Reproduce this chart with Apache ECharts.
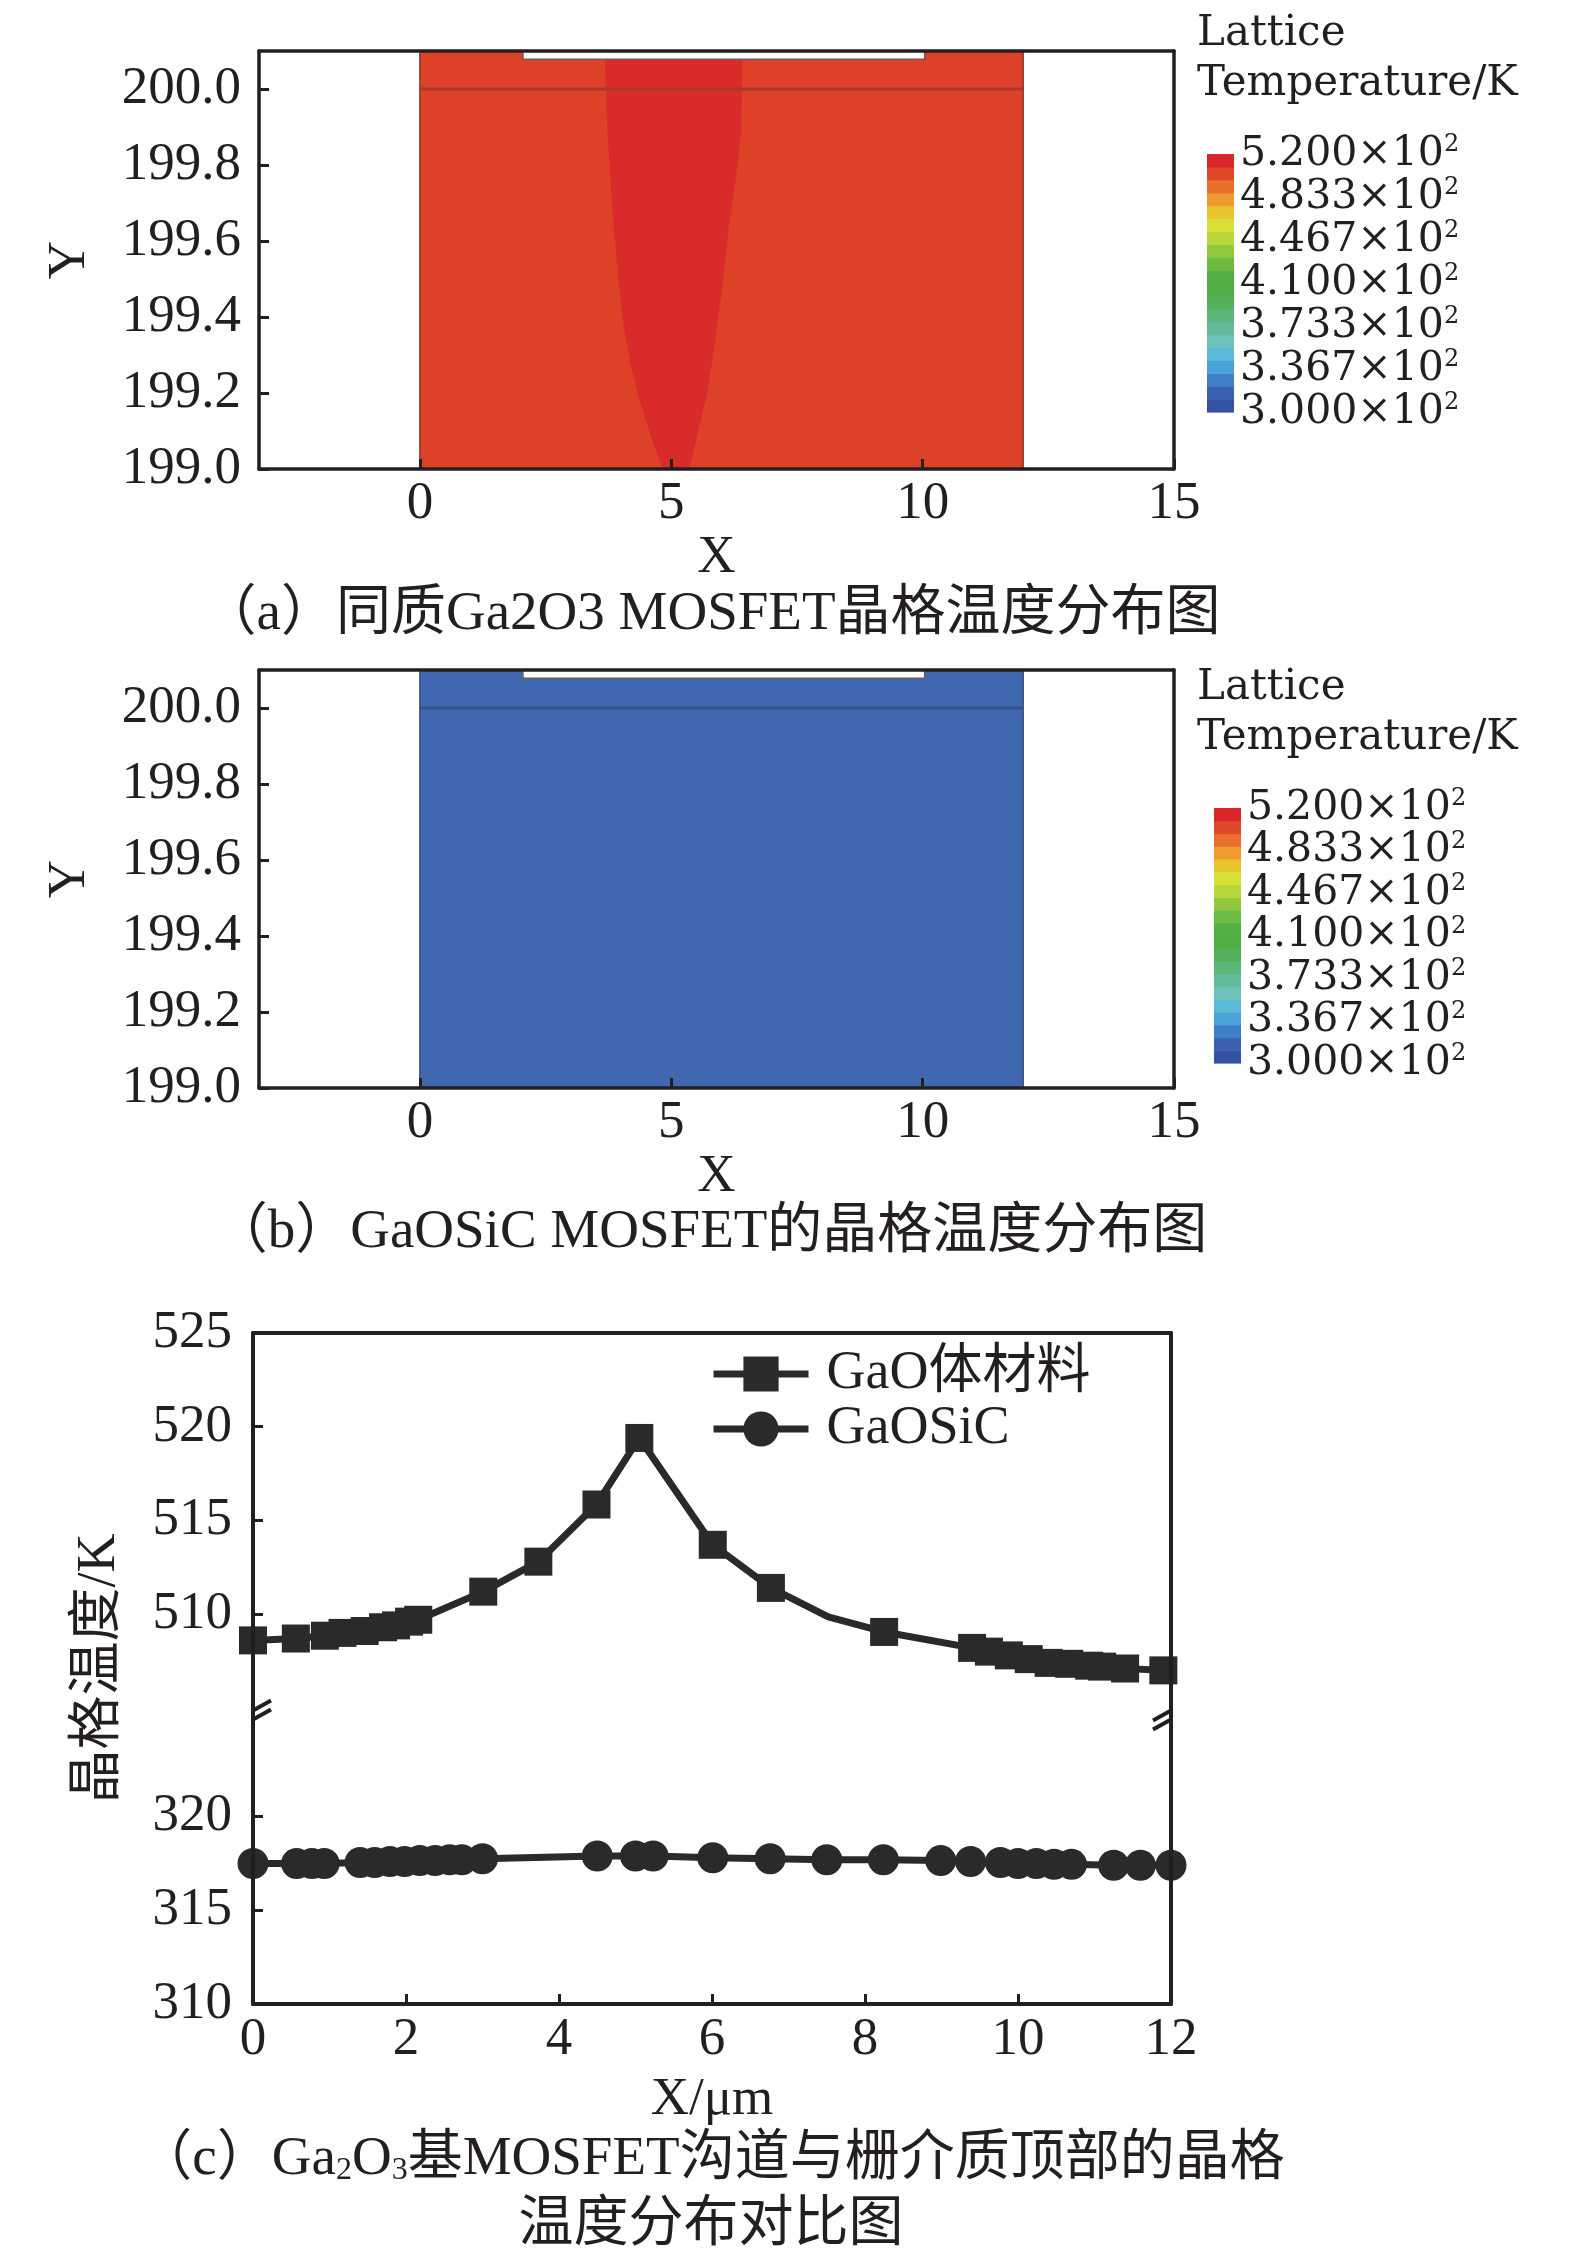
<!DOCTYPE html>
<html><head><meta charset="utf-8">
<script src="https://cdn.jsdelivr.net/npm/echarts@6/dist/echarts.min.js"></script>
<style>html,body{margin:0;padding:0;background:#fff}#c{width:1575px;height:2253px}</style>
</head><body><div id="c"></div>
<script>
const FONT = '"Liberation Serif","Times New Roman","Noto Sans CJK SC",serif';
const WIDE = '"DejaVu Serif","Liberation Serif",serif';
const INK = '#231f20';

// ---------- panels (a)/(b): device map ----------
const mapXTicks = [0, 5, 10, 15];
const mapYTicks = [199.0, 199.2, 199.4, 199.6, 199.8, 200.0];
const deviceRegion = [[0, 12, 199.0, 200.1]];           // x0,x1,y0,y1
const gateRegion = [[2.05, 10.04, 200.078, 200.1]];
const interfaceLine = [[0, 200.0], [12, 200.0]];
const hotSpotA = [[3.67, 200.1], [3.73, 199.89], [3.79, 199.76], [3.86, 199.63], [3.95, 199.50], [4.06, 199.37],
  [4.20, 199.27], [4.35, 199.19], [4.61, 199.08], [4.83, 199.0], [5.36, 199.0], [5.50, 199.08], [5.70, 199.19],
  [5.80, 199.27], [5.91, 199.37], [6.03, 199.50], [6.14, 199.63], [6.28, 199.76], [6.39, 199.89], [6.42, 200.1]];
const colorbarTicks = [300, 336.7, 373.3, 410, 446.7, 483.3, 520];
const colorbarLevels = [300, 311, 322, 333, 344, 355, 366, 377, 388, 399, 410, 421, 432, 443, 454, 465, 476, 487, 498, 509, 520];
const colorbarColors = ['#3551A2', '#3A62B0', '#3F80C4', '#4AA3D8', '#5ABAD7', '#6CC1BA', '#64BB9C', '#5CB57A',
  '#54B05C', '#4FAF45', '#52B043', '#6DBB41', '#92C83D', '#B9D73A', '#D6E036', '#E8C52F', '#EE9A2E', '#E8702A', '#DE4A29', '#D8272B'];

// ---------- panel (c): line chart ----------
const bulkX = [0, 0.56, 0.94, 1.17, 1.46, 1.70, 1.87, 2.04, 2.16, 3.01, 3.73, 4.49, 5.05, 6.01, 6.77, 7.52, 8.25, 9.40, 9.62, 9.88, 10.14, 10.40, 10.67, 10.93, 11.10, 11.40, 11.90];
const bulkT = [508.6, 508.7, 508.85, 509.0, 509.1, 509.3, 509.4, 509.6, 509.7, 511.2, 512.8, 515.85, 519.4, 513.7, 511.4, 509.85, 509.05, 508.2, 508.0, 507.8, 507.6, 507.4, 507.35, 507.25, 507.2, 507.1, 507.0];
const bulkNoMarker = [15];
const sicX = [0, 0.57, 0.77, 0.93, 1.40, 1.59, 1.79, 1.98, 2.18, 2.38, 2.57, 2.73, 3.0, 4.5, 5.0, 5.23, 6.01, 6.76, 7.5, 8.24, 8.99, 9.38, 9.77, 10.0, 10.24, 10.47, 10.7, 11.25, 11.6, 12];
const sicT = [317.5, 317.5, 317.5, 317.5, 317.55, 317.55, 317.6, 317.6, 317.65, 317.65, 317.7, 317.7, 317.75, 317.9, 317.9, 317.9, 317.8, 317.75, 317.7, 317.7, 317.65, 317.6, 317.55, 317.5, 317.5, 317.45, 317.45, 317.4, 317.4, 317.4];
const upperTicks = [510, 515, 520, 525];
const lowerTicks = [310, 315, 320];
const breakValue = 504.8;

const chart = echarts.init(document.getElementById('c'), null, {renderer: 'canvas'});

function rectItem(fill, stroke, lw) {
  return function (params, api) {
    const p0 = api.coord([api.value(0), api.value(2)]);
    const p1 = api.coord([api.value(1), api.value(3)]);
    return {type: 'rect', shape: {x: Math.min(p0[0], p1[0]), y: Math.min(p0[1], p1[1]),
      width: Math.abs(p1[0] - p0[0]), height: Math.abs(p1[1] - p0[1])},
      style: {fill: fill, stroke: stroke, lineWidth: lw}};
  };
}
function lbl(size, extra) { return Object.assign({fontFamily: FONT, fontSize: size, color: INK}, extra || {}); }

function mapAxes(grid) {
  const xB = {gridIndex: grid, type: 'value', min: -3.2, max: 15, z: 10,
    axisLine: {onZero: false, lineStyle: {color: INK, width: 3.5}},
    axisTick: {inside: true, length: 10, lineStyle: {color: INK, width: 3}, customValues: mapXTicks},
    axisLabel: lbl(53, {margin: 9, customValues: mapXTicks, showMaxLabel: true, showMinLabel: true}),
    splitLine: {show: false},
    name: 'X', nameLocation: 'middle', nameGap: 62, nameTextStyle: lbl(53)};
  const xT = {gridIndex: grid, type: 'value', min: -3.2, max: 15, position: 'top', z: 10,
    axisLine: {onZero: false, lineStyle: {color: INK, width: 3.5}}, axisTick: {show: false},
    axisLabel: {show: false}, splitLine: {show: false}};
  const yL = {gridIndex: grid, type: 'value', min: 199, max: 200.1, z: 10,
    axisLine: {onZero: false, lineStyle: {color: INK, width: 3.5}},
    axisTick: {inside: true, length: 10, lineStyle: {color: INK, width: 3}, customValues: mapYTicks},
    axisLabel: lbl(53, {margin: 18, customValues: mapYTicks, formatter: v => v.toFixed(1)}),
    splitLine: {show: false},
    name: 'Y', nameLocation: 'middle', nameGap: 162, nameTextStyle: lbl(53)};
  const yR = {gridIndex: grid, type: 'value', min: 199, max: 200.1, position: 'right', z: 10,
    axisLine: {onZero: false, lineStyle: {color: INK, width: 3.5}}, axisTick: {show: false},
    axisLabel: {show: false}, splitLine: {show: false}};
  return {x: [xB, xT], y: [yL, yR]};
}
const aAx = mapAxes(0), bAx = mapAxes(1);

function cbAxes(grid) {
  return {
    x: {gridIndex: grid, type: 'value', min: 0, max: 1, show: false},
    y: {gridIndex: grid, type: 'value', min: 300, max: 520, position: 'right',
      axisLine: {show: false}, axisTick: {show: false, customValues: colorbarTicks}, splitLine: {show: false},
      axisLabel: {customValues: colorbarTicks, margin: 6, lineHeight: 36, showMinLabel: true, showMaxLabel: true,
        formatter: v => '{m|' + (v / 100).toFixed(3) + '×10}{s|2}',
        rich: {m: {fontFamily: WIDE, fontSize: 41, color: INK, lineHeight: 36},
               s: {fontFamily: WIDE, fontSize: 24, color: INK, lineHeight: 36, padding: [0, 0, 18, 0]}}}}
  };
}
const cbA = cbAxes(3), cbB = cbAxes(4);

const cX = {gridIndex: 2, type: 'value', min: 0, max: 12, interval: 2, z: 10,
  axisLine: {onZero: false, lineStyle: {color: INK, width: 4}},
  axisTick: {inside: true, length: 10, lineStyle: {color: INK, width: 3}},
  axisLabel: lbl(53, {margin: 10}), splitLine: {show: false},
  name: 'X/μm', nameLocation: 'middle', nameGap: 70, nameTextStyle: lbl(53)};
const cXT = {gridIndex: 2, type: 'value', min: 0, max: 12, position: 'top', z: 10,
  axisLine: {onZero: false, lineStyle: {color: INK, width: 4}}, axisTick: {show: false},
  axisLabel: {show: false}, splitLine: {show: false}};
const cYLow = {gridIndex: 2, type: 'value', min: 310, max: 345.8, z: 10,
  axisLine: {onZero: false, lineStyle: {color: INK, width: 4}},
  axisTick: {inside: true, length: 10, lineStyle: {color: INK, width: 3}, customValues: lowerTicks},
  axisLabel: lbl(53, {margin: 21, customValues: lowerTicks}), splitLine: {show: false},
  name: '晶格温度/K', nameLocation: 'middle', nameGap: 126, nameTextStyle: lbl(54)};
const cYUp = {gridIndex: 2, type: 'value', min: 489.2, max: 525, position: 'left', z: 10,
  axisLine: {show: false},
  axisTick: {inside: true, length: 10, lineStyle: {color: INK, width: 3}, customValues: upperTicks},
  axisLabel: lbl(53, {margin: 21, customValues: upperTicks, showMaxLabel: true}), splitLine: {show: false}};
const cYR = {gridIndex: 2, type: 'value', min: 310, max: 345.8, position: 'right', z: 10,
  axisLine: {onZero: false, lineStyle: {color: INK, width: 4}}, axisTick: {show: false},
  axisLabel: {show: false}, splitLine: {show: false}};

function mapSeries(xi, yi, body, bodyEdge, lineColor, hot) {
  const s = [
    {type: 'custom', xAxisIndex: xi, yAxisIndex: yi, data: deviceRegion, encode: {x: [0, 1], y: [2, 3]},
      renderItem: rectItem(body, bodyEdge, 1.5), silent: true, z: 2}
  ];
  if (hot) {
    s.push({type: 'custom', xAxisIndex: xi, yAxisIndex: yi, data: [0], silent: true, z: 3,
      renderItem: function (params, api) {
        return {type: 'polygon', shape: {points: hotSpotA.map(p => api.coord(p))}, style: {fill: hot}};
      }});
  }
  s.push({type: 'line', xAxisIndex: xi, yAxisIndex: yi, data: interfaceLine, symbol: 'none', silent: true, z: 4,
    lineStyle: {color: lineColor, width: 3}});
  s.push({type: 'custom', xAxisIndex: xi, yAxisIndex: yi, data: gateRegion, encode: {x: [0, 1], y: [2, 3]},
    renderItem: rectItem('#ffffff', '#6b5a55', 1.5), silent: true, z: 5});
  return s;
}
function colorbarSeries(xi, yi) {
  return {type: 'custom', xAxisIndex: xi, yAxisIndex: yi, silent: true,
    data: colorbarColors.map((c, i) => [0, 1, colorbarLevels[i], colorbarLevels[i + 1], i]),
    encode: {x: [0, 1], y: [2, 3]},
    renderItem: function (params, api) {
      const p0 = api.coord([0, api.value(2)]);
      const p1 = api.coord([1, api.value(3)]);
      return {type: 'rect', shape: {x: p0[0], y: p1[1], width: p1[0] - p0[0], height: p0[1] - p1[1] + 0.6},
        style: {fill: colorbarColors[api.value(4)]}};
    }};
}
const capStyle = lbl(55, {fontWeight: 'normal'});
const latticeStyle = {fontFamily: WIDE, fontSize: 42, color: INK, lineHeight: 50, fontWeight: 'normal'};

const option = {
  backgroundColor: '#ffffff',
  animation: false,
  textStyle: {fontFamily: FONT},
  title: [
    {text: 'Lattice\nTemperature/K', left: 1192, top: 4, textStyle: latticeStyle},
    {text: 'Lattice\nTemperature/K', left: 1192, top: 658, textStyle: latticeStyle},
    {text: '（a）同质Ga2O3 MOSFET晶格温度分布图', left: 706, textAlign: 'center', top: 582, textStyle: capStyle},
    {text: '（b）GaOSiC MOSFET的晶格温度分布图', left: 705, textAlign: 'center', top: 1200, textStyle: capStyle},
    {text: '（c）Ga{sub|2}O{sub|3}基MOSFET沟道与栅介质顶部的晶格\n温度分布对比图', left: 706, textAlign: 'center', top: 2122,
      textStyle: lbl(55, {fontWeight: 'normal', lineHeight: 66,
        rich: {sub: lbl(32, {lineHeight: 66, padding: [22, 0, 0, 0]})}})}
  ],
  legend: {
    data: ['GaO体材料', 'GaOSiC'], orient: 'vertical', left: 710, top: 1347, padding: 0,
    itemWidth: 95, itemHeight: 44, itemGap: 1,
    lineStyle: {width: 7, color: '#2b2a2b'},
    textStyle: lbl(54, {lineHeight: 41, padding: [0, 0, 0, 13]})
  },
  grid: [
    {left: 259, top: 51, width: 915, height: 418},
    {left: 259, top: 670, width: 915, height: 418},
    {left: 253, top: 1333, width: 918, height: 671},
    {left: 1207, top: 154, width: 27, height: 258},
    {left: 1214, top: 808, width: 27, height: 255}
  ],
  xAxis: [aAx.x[0], aAx.x[1], bAx.x[0], bAx.x[1], cX, cXT, cbA.x, cbB.x],
  yAxis: [aAx.y[0], aAx.y[1], bAx.y[0], bAx.y[1], cYLow, cYUp, cYR, cbA.y, cbB.y],
  series: [].concat(
    mapSeries(0, 0, '#DD4229', '#8a3a2c', '#A8382A', '#D92B2A'),
    mapSeries(2, 2, '#3F68B0', '#3a4f7e', '#34528A', null),
    [
      {name: 'GaO体材料', type: 'line', xAxisIndex: 4, yAxisIndex: 5,
        data: bulkX.map((x, i) => bulkNoMarker.indexOf(i) >= 0 ? {value: [x, bulkT[i]], symbol: 'none'} : [x, bulkT[i]]),
        symbol: 'rect', symbolSize: 28, showAllSymbol: true, clip: false,
        lineStyle: {color: '#2b2a2b', width: 7}, itemStyle: {color: '#2b2a2b'}, z: 5},
      {name: 'GaOSiC', type: 'line', xAxisIndex: 4, yAxisIndex: 4,
        data: sicX.map((x, i) => [x, sicT[i]]),
        symbol: 'circle', symbolSize: 31, showAllSymbol: true, clip: false,
        lineStyle: {color: '#2b2a2b', width: 7}, itemStyle: {color: '#2b2a2b'}, z: 5},
      colorbarSeries(6, 7),
      colorbarSeries(7, 8)
    ]
  )
};
chart.setOption(option);

// axis-break marks on the broken temperature axis (positions from the axis scale)
const pL = chart.convertToPixel({xAxisIndex: 4, yAxisIndex: 5}, [0, breakValue]);
const pR = chart.convertToPixel({xAxisIndex: 4, yAxisIndex: 5}, [12, breakValue]);
function breakMark(px, py) {
  return [
    {type: 'line', z: 20, shape: {x1: px, y1: py - 1, x2: px + 18, y2: py - 11}, style: {stroke: INK, lineWidth: 4}},
    {type: 'line', z: 20, shape: {x1: px, y1: py + 8, x2: px + 18, y2: py - 2}, style: {stroke: INK, lineWidth: 4}}
  ];
}
chart.setOption({graphic: [].concat(breakMark(pL[0], pL[1]), breakMark(pR[0] - 18, pR[1] + 10))});
</script></body></html>
